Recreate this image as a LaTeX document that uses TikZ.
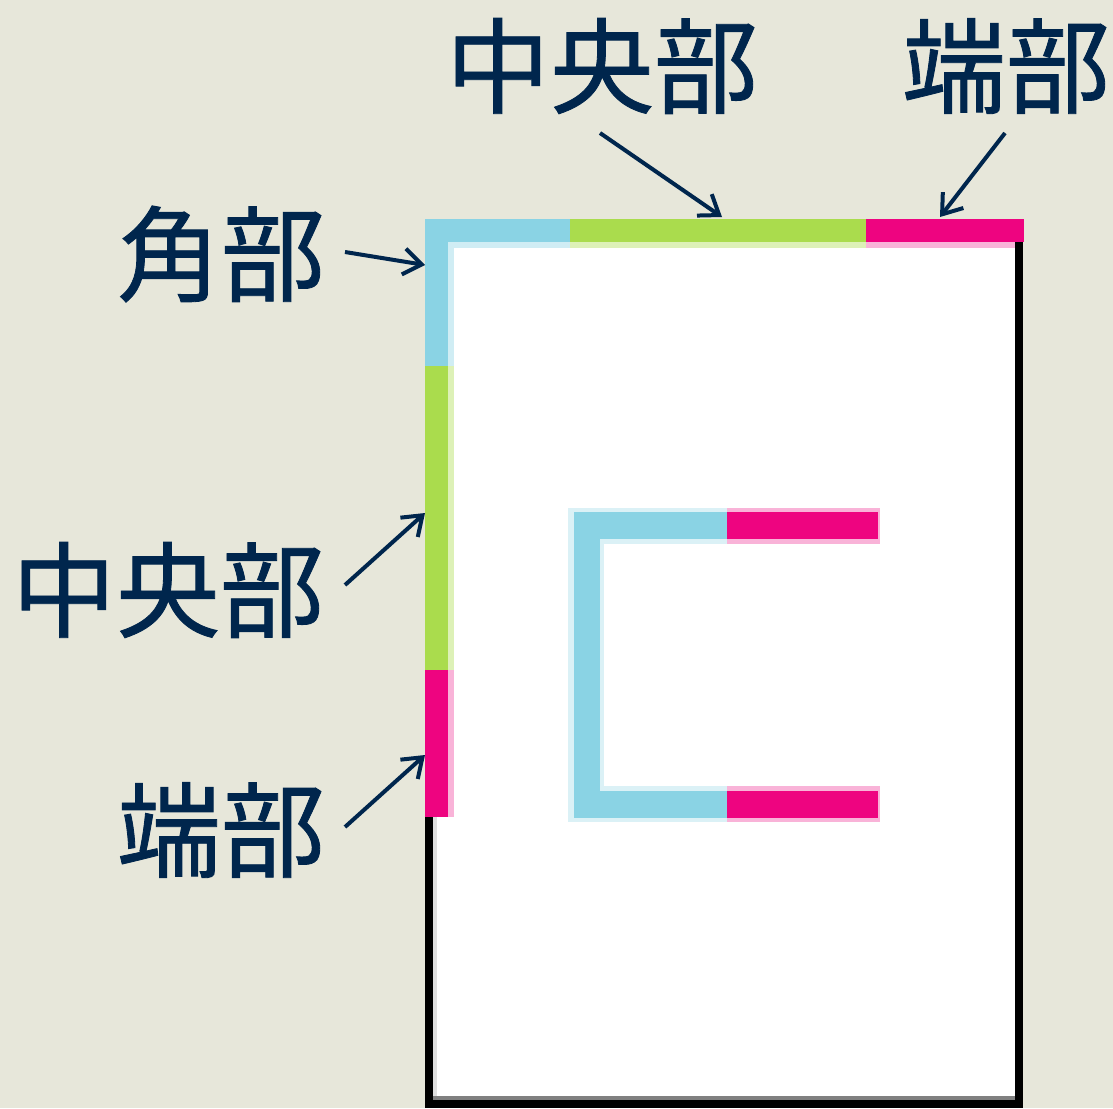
\documentclass[tikz,border=0pt]{standalone}
\usepackage{fontspec}
\newfontfamily\jpfont[FakeBold=0.8]{Noto Sans CJK JP}
\usetikzlibrary{arrows.meta}
\definecolor{bgc}{HTML}{E7E7DA}
\definecolor{navy}{HTML}{00264D}
\definecolor{cblue}{HTML}{8AD3E4}
\definecolor{cgreen}{HTML}{AADC4D}
\definecolor{cpink}{HTML}{EE0480}
\tikzset{
  lbl/.style={inner sep=0pt, text=navy, font=\jpfont\fontsize{52pt}{62pt}\selectfont},
  arr/.style={draw=navy, line width=2pt, -{Straight Barb[length=9pt,width=13pt,line width=2pt]}},
}
\begin{document}
\begin{tikzpicture}[x=0.5pt,y=-0.5pt]
\useasboundingbox (0,0) rectangle (1113,1108);
\fill[bgc] (0,0) rectangle (1113,1108);
% sheet
\fill[white] (429,226) rectangle (1019,1104);
\draw[black, line width=4pt] (429,226) -- (429,1104) -- (1019,1104) -- (1019,226);
\fill[white!75!gray] (433,817) rectangle (437,1100);
\fill[gray] (433,1096) rectangle (1015,1100);
% top band
\fill[cblue]  (425,219) rectangle (570,242);
\fill[cgreen] (570,219) rectangle (866,242);
\fill[cpink]  (866,219) rectangle (1024,242);
% left band
\fill[cblue]  (425,242) rectangle (448,366);
\fill[cgreen] (425,366) rectangle (448,670);
\fill[cpink]  (425,670) rectangle (448,817);
% soft inner fringe
\fill[cblue, opacity=0.4] (448,242) rectangle (454,366);
\fill[cblue, opacity=0.4] (454,242) rectangle (570,248);
\fill[cgreen, opacity=0.4] (448,366) rectangle (454,670);
\fill[cgreen, opacity=0.4] (570,242) rectangle (866,248);
\fill[cpink, opacity=0.3] (448,670) rectangle (454,817);
\fill[cpink, opacity=0.3] (866,242) rectangle (1015,248);
% inner C shape
\fill[cblue, opacity=0.3] (568,508) rectangle (604,822);
\fill[cblue, opacity=0.3] (604,508) rectangle (727,544);
\fill[cblue, opacity=0.3] (604,786) rectangle (727,822);
\fill[cpink, opacity=0.3] (727,508) rectangle (880,544);
\fill[cpink, opacity=0.3] (727,786) rectangle (880,822);
\fill[cblue] (574,512) rectangle (600,818);
\fill[cblue] (574,512) rectangle (727,539);
\fill[cblue] (574,791) rectangle (727,818);
\fill[cpink] (727,512) rectangle (878,539);
\fill[cpink] (727,791) rectangle (878,818);
% labels
\node[lbl] (tc) at (602,66) {中央部};
\node[lbl] (te) at (1006,66) {端部};
\node[lbl] (lk) at (221,254) {角部};
\node[lbl] (lc) at (168,590) {中央部};
\node[lbl] (le) at (221,830) {端部};
% arrow ends
\coordinate (tcS) at (600,133); \coordinate (tcE) at (722,217);
\coordinate (teS) at (1005,133); \coordinate (teE) at (940,217);
\coordinate (lkS) at (345,252); \coordinate (lkE) at (425,265);
\coordinate (lcS) at (345,585); \coordinate (lcE) at (425,513);
\coordinate (leS) at (345,827); \coordinate (leE) at (425,755);
\draw[arr] (tcS) -- (tcE);
\draw[arr] (teS) -- (teE);
\draw[arr] (lkS) -- (lkE);
\draw[arr] (lcS) -- (lcE);
\draw[arr] (leS) -- (leE);
\end{tikzpicture}
\end{document}
